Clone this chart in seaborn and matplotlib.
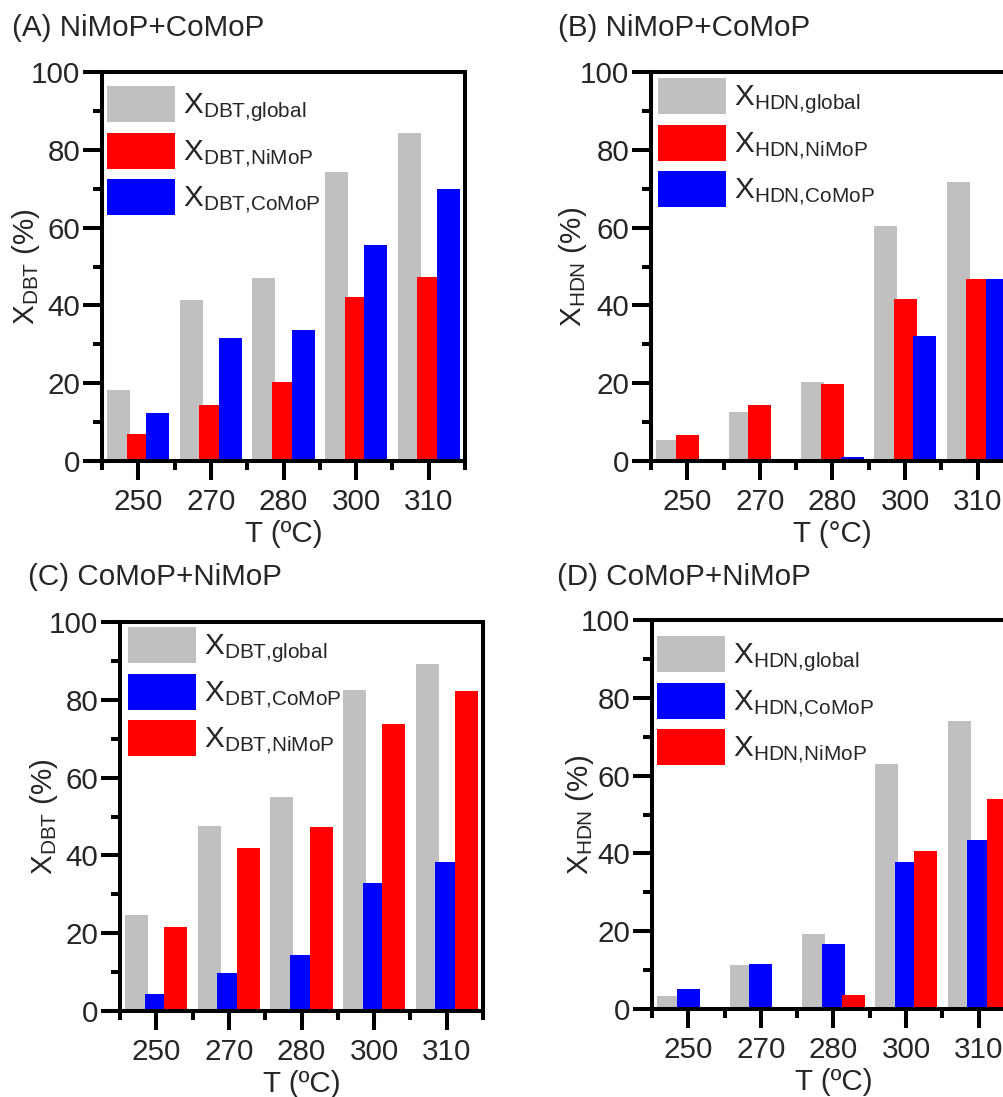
import numpy as np
import pandas as pd
import matplotlib
matplotlib.use('Agg')
import matplotlib.pyplot as plt
import seaborn as sns

# ---------------- data ----------------
temps = ['250', '270', '280', '300', '310']

a_global = [18.3, 41.3, 47.0, 74.3, 84.4]
a_nimop = [6.9, 14.4, 20.3, 42.1, 47.2]
a_comop = [12.4, 31.6, 33.7, 55.5, 70.0]

b_global = [5.5, 12.5, 20.4, 60.4, 71.6]
b_nimop = [6.8, 14.3, 19.9, 41.7, 46.8]
b_comop = [0.0, 0.0, 0.9, 32.1, 46.8]

c_global = [24.8, 47.6, 54.9, 82.6, 89.2]
c_comop = [4.4, 9.8, 14.3, 33.0, 38.2]
c_nimop = [21.5, 41.9, 47.3, 73.8, 82.2]

d_global = [3.3, 11.3, 19.4, 62.9, 74.0]
d_comop = [5.1, 11.6, 16.7, 37.7, 43.4]
d_nimop = [0.0, 0.0, 3.5, 40.5, 54.0]

titles = ['(A) NiMoP+CoMoP', '(B) NiMoP+CoMoP', '(C) CoMoP+NiMoP', '(D) CoMoP+NiMoP']
xlabels = ['T (ºC)', 'T (°C)', 'T (ºC)', 'T (ºC)']
ylabels = [r'$X_{DBT}$ (%)', r'$X_{HDN}$ (%)', r'$X_{DBT}$ (%)', r'$X_{HDN}$ (%)']

GREY, RED, BLUE = '#C0C0C0', '#FF0000', '#0000FF'

panels = [
    ([r'$X_{DBT{,}global}$', r'$X_{DBT{,}NiMoP}$', r'$X_{DBT{,}CoMoP}$'],
     [a_global, a_nimop, a_comop], [GREY, RED, BLUE]),
    ([r'$X_{HDN{,}global}$', r'$X_{HDN{,}NiMoP}$', r'$X_{HDN{,}CoMoP}$'],
     [b_global, b_nimop, b_comop], [GREY, RED, BLUE]),
    ([r'$X_{DBT{,}global}$', r'$X_{DBT{,}CoMoP}$', r'$X_{DBT{,}NiMoP}$'],
     [c_global, c_comop, c_nimop], [GREY, BLUE, RED]),
    ([r'$X_{HDN{,}global}$', r'$X_{HDN{,}CoMoP}$', r'$X_{HDN{,}NiMoP}$'],
     [d_global, d_comop, d_nimop], [GREY, BLUE, RED]),
]

# ---------------- style ----------------
sns.set_theme(style='ticks')
plt.rcParams['font.family'] = ['Liberation Sans', 'DejaVu Sans']
plt.rcParams['mathtext.fontset'] = 'custom'
plt.rcParams['mathtext.rm'] = 'Liberation Sans'
plt.rcParams['mathtext.it'] = 'Liberation Sans'
plt.rcParams['mathtext.bf'] = 'Liberation Sans:bold'
plt.rcParams['mathtext.default'] = 'regular'

W, H = 1004, 1097
fig = plt.figure(figsize=(W / 100, H / 100), dpi=100)

# axes boxes in pixels: left, top, bottom
boxes = [(102, 72, 461), (651, 72, 461), (120, 622, 1011), (652, 620, 1009)]
AXW = 363
title_pos = [(12, 28), (558, 28), (28, 577), (557, 577)]
legend_anchor = [(107, 86), (658, 78), (128, 627), (657, 636)]
ylab_x = [-0.165, -0.172, -0.165, -0.155]

FS = 21.3
for i, ((labels, series, colors), (l, t, b)) in enumerate(zip(panels, boxes)):
    ax = fig.add_axes([l / W, 1 - b / H, AXW / W, (b - t) / H])
    df = pd.DataFrame({
        'T': temps * 3,
        'value': series[0] + series[1] + series[2],
        'series': [labels[0]] * 5 + [labels[1]] * 5 + [labels[2]] * 5,
    })
    sns.barplot(data=df, x='T', y='value', hue='series', hue_order=labels,
                order=temps, palette=colors, saturation=1, width=0.81,
                gap=-0.18, linewidth=0, errorbar=None, ax=ax)
    ax.set_ylim(0, 100)
    ax.set_xlim(-0.5, 4.5)
    ax.set_yticks([0, 20, 40, 60, 80, 100])
    ax.set_yticks([10, 30, 50, 70, 90], minor=True)
    ax.set_xticks(np.arange(-0.5, 5, 1), minor=True)
    ax.tick_params(axis='both', which='major', length=13.7, width=2.9,
                   direction='out', labelsize=FS, color='black')
    ax.tick_params(axis='y', which='major', pad=2)
    ax.tick_params(axis='x', which='major', pad=5.5)
    ax.tick_params(axis='both', which='minor', length=6.5, width=2.9,
                   direction='out', color='black')
    for sp in ax.spines.values():
        sp.set_visible(True)
        sp.set_linewidth(2.9)
        sp.set_color('black')
    ax.set_xlabel(xlabels[i], fontsize=FS)
    ax.set_ylabel(ylabels[i], fontsize=FS)
    ax.xaxis.set_label_coords(0.5, -0.152)
    ax.yaxis.set_label_coords(ylab_x[i], 0.5)
    lx, ly = legend_anchor[i]
    sns.move_legend(ax, 'upper left',
                    bbox_to_anchor=((lx - l) / AXW, (b - ly) / (b - t)),
                    frameon=False, fontsize=FS, title=None,
                    handlelength=2.3, handleheight=1.48, handletextpad=0.28,
                    labelspacing=0.3, borderpad=0, borderaxespad=0)
    tx, ty = title_pos[i]
    fig.text(tx / W, 1 - ty / H, titles[i], fontsize=FS, ha='left', va='center')

fig.savefig('out.png', dpi=100)
